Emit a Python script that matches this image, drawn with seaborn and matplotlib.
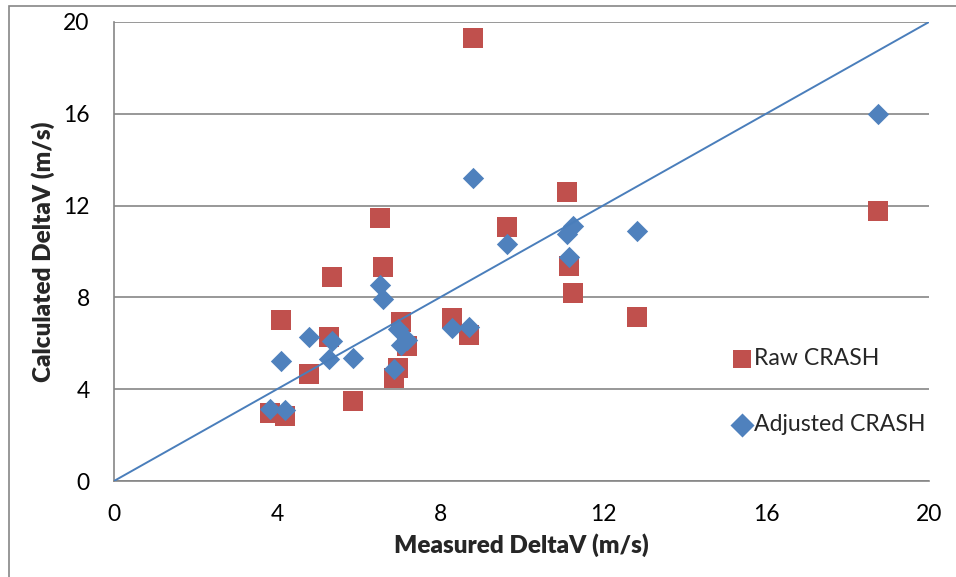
import numpy as np
import pandas as pd
import seaborn as sns
import matplotlib.pyplot as plt
from matplotlib.patches import Rectangle

# ==========================================
# DATA
# ==========================================
measured = [3.83, 4.20, 4.10, 4.79, 5.28, 5.35, 5.87, 6.53, 6.60, 6.87, 6.97,
            7.05, 7.20, 8.30, 8.71, 8.81, 9.64, 11.12, 11.17, 11.26, 12.83, 18.75]
raw_crash = [2.96, 2.83, 7.02, 4.66, 6.27, 8.89, 3.49, 11.46, 9.33, 4.49, 4.92,
             6.93, 5.88, 7.10, 6.36, 19.30, 11.07, 12.59, 9.37, 8.19, 7.15, 11.76]
adjusted_crash = [3.14, 3.09, 5.23, 6.28, 5.32, 6.10, 5.36, 8.54, 7.93, 4.88, 6.62,
                  5.93, 6.14, 6.67, 6.71, 13.20, 10.33, 10.76, 9.76, 11.11, 10.89, 15.99]
axis_ticks = [0, 4, 8, 12, 16, 20]

# ==========================================
# STYLE
# ==========================================
RED = '#C0504D'
BLUE = '#4F81BD'
GRID = '#868686'

sns.set_theme(style='white')
plt.rcParams['font.family'] = ['Lato', 'DejaVu Sans']

fig = plt.figure(figsize=(9.56, 5.77), dpi=100)
ax = fig.add_axes([114 / 956, 1 - 481 / 577, 815 / 956, 459 / 577])

df = pd.DataFrame({'measured': measured, 'raw': raw_crash, 'adjusted': adjusted_crash})

sns.scatterplot(data=df, x='measured', y='raw', ax=ax, marker='s', s=200,
                color=RED, linewidth=0, label='Raw CRASH', zorder=3)
sns.scatterplot(data=df, x='measured', y='adjusted', ax=ax, marker='D', s=118,
                color=BLUE, linewidth=0, label='Adjusted CRASH', zorder=4)

# 1:1 reference line
ax.axline((0, 0), slope=1, color='#4A7EBB', linewidth=1.4, zorder=5)

ax.set_xlim(axis_ticks[0], axis_ticks[-1])
ax.set_ylim(axis_ticks[0], axis_ticks[-1])
ax.set_xticks(axis_ticks)
ax.set_yticks(axis_ticks)

ax.grid(axis='y', color=GRID, linewidth=1.2)
ax.grid(axis='x', visible=False)
ax.set_axisbelow(True)

for side in ['top', 'right']:
    ax.spines[side].set_visible(False)
for side in ['left', 'bottom']:
    ax.spines[side].set_color(GRID)
    ax.spines[side].set_linewidth(1.2)

ax.tick_params(axis='both', which='major', direction='out', length=5.5, width=1.2,
               color=GRID, labelsize=16.5, labelcolor='black')
ax.tick_params(axis='x', pad=11)
ax.tick_params(axis='y', pad=12)

ax.set_xlabel('Measured DeltaV (m/s)', fontsize=17.5, fontweight='heavy', labelpad=6)
ax.set_ylabel('Calculated DeltaV (m/s)', fontsize=17.5, fontweight='heavy', labelpad=6)

leg = ax.legend(loc='center left', bbox_to_anchor=(0.759, 0.194), frameon=False,
                fontsize=16.6, handlelength=0.8, handletextpad=0.12,
                labelspacing=1.95, borderpad=0, borderaxespad=0)
for h in leg.legend_handles:
    h.set_sizes([150]) if hasattr(h, 'set_sizes') else None

# outer chart-area border (only left/top visible in the crop)
fig.patches.append(Rectangle((8.5 / 956, -0.1), 1.2, (577 - 5.5) / 577 + 0.1,
                             transform=fig.transFigure, fill=False,
                             edgecolor=GRID, linewidth=1.2, clip_on=False))

plt.savefig('out.png', dpi=100)
